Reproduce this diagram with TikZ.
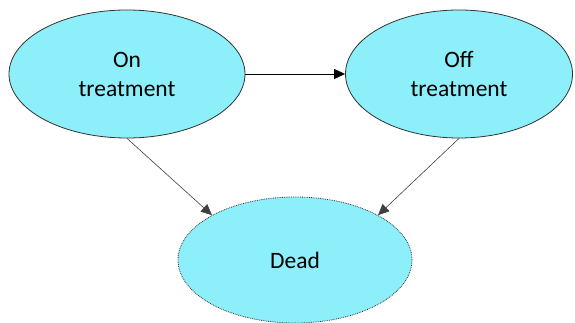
\documentclass[tikz,border=0pt]{standalone}
\usepackage{fontspec}
\setmainfont{Carlito}
\usetikzlibrary{shapes.geometric,arrows.meta}
\definecolor{stateFill}{RGB}{140,239,250}
\tikzset{
  state/.style={ellipse, draw=black!80, fill=stateFill, line width=0.8pt,
    align=center, font=\fontsize{23.5}{29}\selectfont, inner sep=0pt},
  thinarrow/.style={-{Triangle[length=11pt,width=10pt]}, draw=black!75, line width=0.6pt},
  thickarrow/.style={-{Triangle[length=11pt,width=10pt]}, draw=black, line width=0.95pt}
}
\begin{document}
\begin{tikzpicture}[x=1pt,y=1pt]
  \useasboundingbox (0,0) rectangle (575,323);
  \node[state, minimum width=236pt, minimum height=128pt] (on) at (127,249) {On\\treatment};
  \node[state, minimum width=227pt, minimum height=128pt] (off) at (459,249) {Off\\treatment};
  \node[state, densely dotted, minimum width=234pt, minimum height=126pt] (dead) at (295,63) {Dead};
  \draw[thickarrow] (on.east) -- (off.west);
  \draw[thinarrow] (on.south) -- (dead.north west);
  \draw[thinarrow] (off.south) -- (dead.north east);
\end{tikzpicture}
\end{document}
